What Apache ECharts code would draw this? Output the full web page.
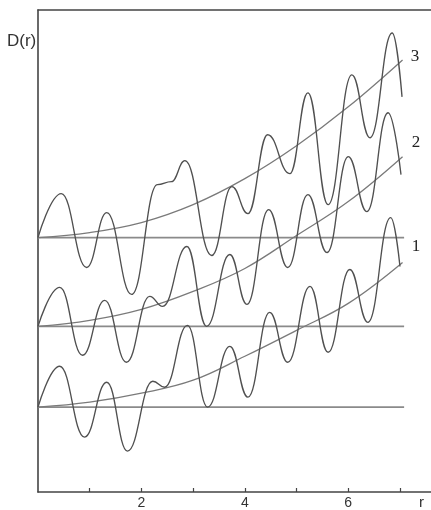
<!DOCTYPE html>
<html>
<head>
<meta charset="utf-8">
<script src="https://cdn.jsdelivr.net/npm/echarts@6/dist/echarts.min.js"></script>
<style>html,body{margin:0;padding:0;background:#fff}#c{width:431px;height:510px}</style>
</head>
<body>
<div id="c"></div>
<script>
// r values and D(r) values (arbitrary units)
var curve3 = [[0,25.5],[0.45,29.9],[0.94,22.5],[1.33,28.0],[1.81,19.8],[2.31,30.8],[2.58,31.1],[2.84,33.2],[3.36,23.7],[3.75,30.6],[4.06,27.9],[4.44,35.8],[4.87,31.9],[5.22,40.0],[5.61,28.8],[6.07,41.8],[6.42,35.5],[6.85,46.0],[7.04,39.6]];
var curve2 = [[0,16.6],[0.42,20.5],[0.86,13.7],[1.29,19.2],[1.71,13.0],[2.16,19.6],[2.41,18.6],[2.88,24.6],[3.26,16.6],[3.71,23.8],[4.04,18.8],[4.46,28.3],[4.83,22.5],[5.22,29.8],[5.59,24.0],[6.0,33.6],[6.36,28.1],[6.77,38.0],[7.02,31.8]];
var curve1 = [[0,8.5],[0.42,12.6],[0.90,5.5],[1.33,11.0],[1.73,4.1],[2.22,11.1],[2.45,10.5],[2.89,16.7],[3.28,8.5],[3.71,14.6],[4.06,9.5],[4.48,18.0],[4.83,13.0],[5.26,20.6],[5.61,14.0],[6.03,22.3],[6.38,17.0],[6.82,27.5],[7.0,22.6]];
var trendR = [0,1,2,3,4,5,6,7.05];
var trend3 = [25.5,26.0,27.0,28.8,31.4,34.7,38.6,43.3];
var trend2 = [16.6,17.2,18.3,20.1,22.4,25.7,29.1,33.6];
var trend1 = [8.5,9.0,9.9,11.2,13.6,16.2,18.9,23.0];
var baseR = [0,7.08];
var base3 = 25.5, base2 = 16.6, base1 = 8.5;
var tickValues = [1,2,3,4,5,6,7];
var labelValues = [2,4,6];
var curveNames = ['1','2','3'];

function pairs(xs, ys){ return xs.map(function(x,i){ return [x, ys[i]]; }); }
function flat(xs, v){ return xs.map(function(x){ return [x, v]; }); }

var chart = echarts.init(document.getElementById('c'), null, {renderer:'canvas'});
var oscStyle = {color:'#505050', width:1.35};
var trendStyle = {color:'#7a7a7a', width:1.3};
var baseStyle = {color:'#8a8a8a', width:1.8};
function osc(d){ return {type:'line', data:d, smooth:0.45, smoothMonotone:'x', showSymbol:false, symbol:'none', lineStyle:oscStyle, silent:true, z:3}; }
function trend(d){ return {type:'line', data:d, smooth:0.4, showSymbol:false, symbol:'none', lineStyle:trendStyle, silent:true, z:2}; }
function base(d){ return {type:'line', data:d, showSymbol:false, symbol:'none', lineStyle:baseStyle, silent:true, z:1}; }

chart.setOption({
  animation:false,
  backgroundColor:'#fff',
  grid:{left:38, right:0, top:10, bottom:17, containLabel:false},
  xAxis:[{
    type:'value', min:0, max:7.6, interval:1, position:'bottom',
    axisLine:{show:true, lineStyle:{color:'#444', width:1.6}},
    axisTick:{show:true, inside:true, length:4, lineStyle:{color:'#444', width:1.2}, customValues:tickValues},
    axisLabel:{show:true, margin:4, color:'#333', fontSize:14, fontFamily:'Liberation Sans, Arial, sans-serif', customValues:labelValues,
      formatter:function(v){ return labelValues.indexOf(v) >= 0 ? String(v) : ''; }},
    splitLine:{show:false}
  },{
    type:'value', min:0, max:7.6, position:'top',
    axisLine:{show:true, lineStyle:{color:'#444', width:1.6}},
    axisTick:{show:false}, axisLabel:{show:false}, splitLine:{show:false}
  }],
  yAxis:{
    type:'value', min:0, max:48.3,
    axisLine:{show:true, lineStyle:{color:'#444', width:1.6}},
    axisTick:{show:false}, axisLabel:{show:false}, splitLine:{show:false}
  },
  series:[
    base(flat(baseR, base3)), base(flat(baseR, base2)), base(flat(baseR, base1)),
    trend(pairs(trendR, trend3)), trend(pairs(trendR, trend2)), trend(pairs(trendR, trend1)),
    osc(curve3), osc(curve2), osc(curve1)
  ],
  graphic:[
    {type:'text', left:7, top:33, style:{text:'D(r)', fontSize:17, fill:'#333', fontFamily:'Liberation Sans, Arial, sans-serif'}},
    {type:'text', left:419, top:495, style:{text:'r', fontSize:15, fill:'#333', fontFamily:'Liberation Sans, Arial, sans-serif'}},
    {type:'text', x:415, y:57, style:{text:curveNames[2], fontSize:17, fill:'#222', fontFamily:'Liberation Serif, serif', align:'center', verticalAlign:'middle'}},
    {type:'text', x:416, y:143, style:{text:curveNames[1], fontSize:17, fill:'#222', fontFamily:'Liberation Serif, serif', align:'center', verticalAlign:'middle'}},
    {type:'text', x:416, y:247, style:{text:curveNames[0], fontSize:17, fill:'#222', fontFamily:'Liberation Serif, serif', align:'center', verticalAlign:'middle'}}
  ]
});
</script>
</body>
</html>
